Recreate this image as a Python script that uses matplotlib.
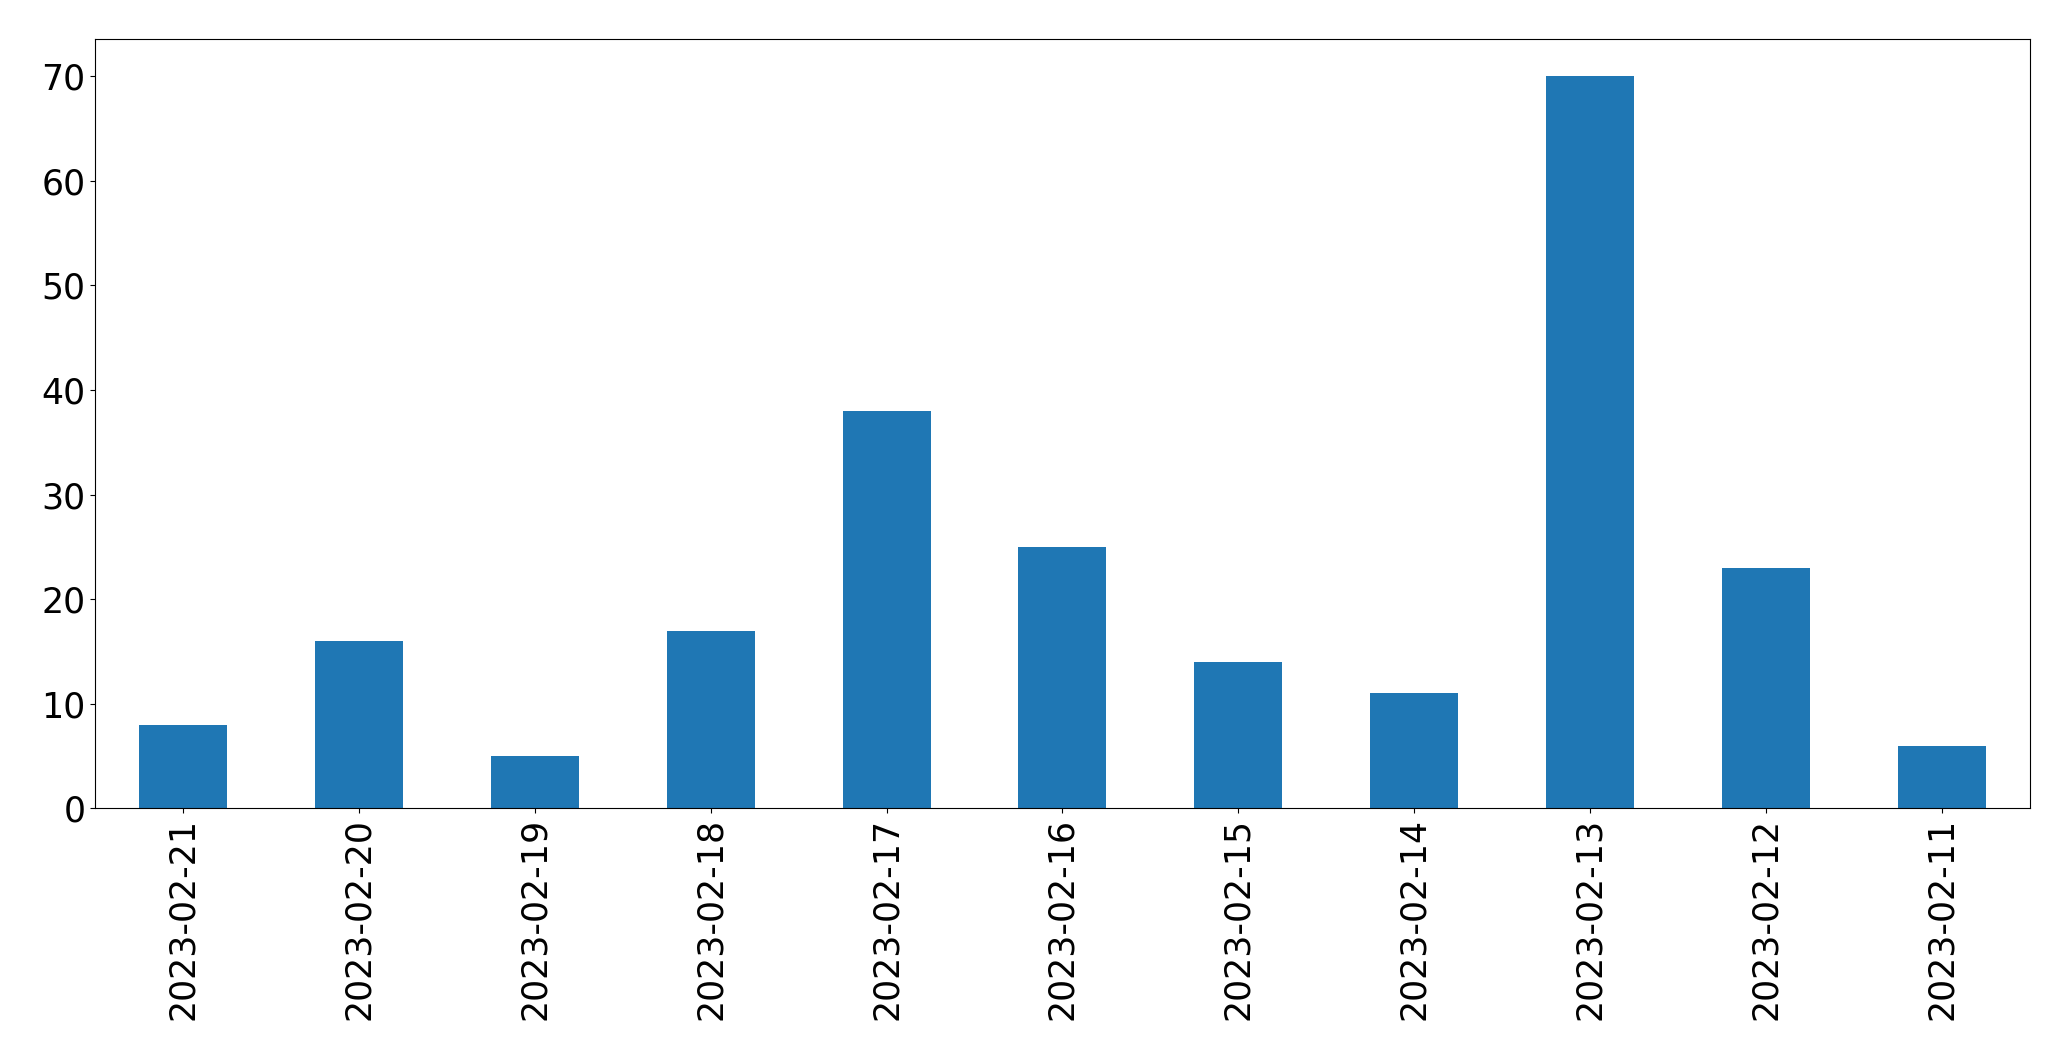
import matplotlib.pyplot as plt
import numpy as np

# dates (newest first) and counts per day
dates = ['2023-02-21', '2023-02-20', '2023-02-19', '2023-02-18', '2023-02-17',
         '2023-02-16', '2023-02-15', '2023-02-14', '2023-02-13', '2023-02-12',
         '2023-02-11']
counts = [8, 16, 5, 17, 38, 25, 14, 11, 70, 23, 6]

fig, ax = plt.subplots(figsize=(20.71, 10.61), dpi=100)
x = np.arange(len(dates))
ax.bar(x, counts, width=0.5, color='#1f77b4')
ax.set_xlim(-0.5, len(dates) - 0.5)
ax.set_xticks(x)
ax.set_xticklabels(dates, rotation=90)
ax.tick_params(labelsize=25)

fig.subplots_adjust(left=0.046, right=0.980, top=0.963, bottom=0.238)
plt.savefig('out.png')
